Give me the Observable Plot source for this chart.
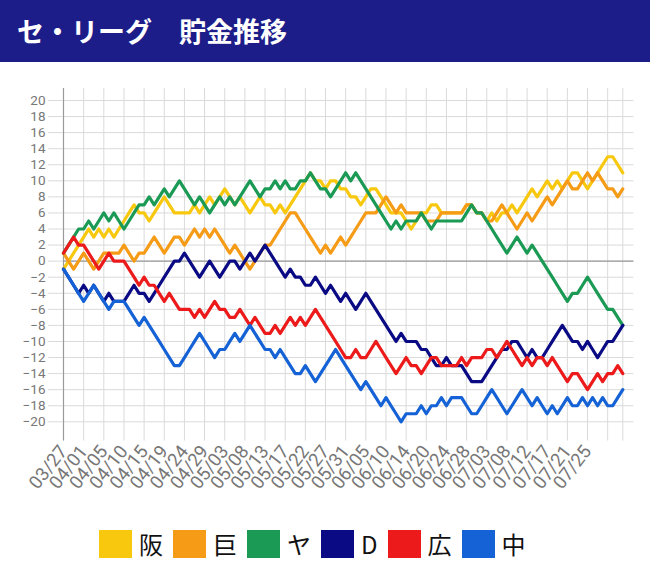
<!DOCTYPE html>
<html><head><meta charset="utf-8">
<script src="https://cdn.jsdelivr.net/npm/d3@7"></script>
<script src="https://cdn.jsdelivr.net/npm/@observablehq/plot@0.6"></script>
<style>
body{margin:0;background:#fff;width:650px;}
#hdr{height:62px;background:#1d1d8a;color:#fff;font:700 27px "Noto Sans CJK JP",sans-serif;line-height:62px;padding-left:17px;box-sizing:border-box;white-space:pre;}
#legend{display:flex;align-items:center;padding-left:99px;margin-top:8px;height:28px;font:24px "Noto Sans CJK JP",sans-serif;color:#111;}
#legend .sq{width:33px;height:28px;margin-right:7px;}
#legend .lb{margin-right:10px;line-height:28px;}
</style></head>
<body>
<div id="hdr">セ・リーグ　貯金推移</div>
<div id="chart"></div>
<div id="legend"></div>
<script>
const teams = ["阪","巨","ヤ","D","広","中"];
const colors = ["#f8c80f","#f59b16","#1a9a55","#0a0a85","#ec1a1a","#1462d6"];
const dateLabels = ["03/27","04/01","04/05","04/10","04/15","04/19","04/24","04/29","05/03","05/08","05/13","05/17","05/22","05/27","05/31","06/05","06/10","06/14","06/20","06/24","06/28","07/03","07/08","07/12","07/17","07/21","07/25"];
const yTicks = [-20,-18,-16,-14,-12,-10,-8,-6,-4,-2,0,2,4,6,8,10,12,14,16,18,20];

const tigers = [-1,0,1,2,3,4,3,4,3,4, 3,4,5,6,7,6,6,5,6,7, 8,7,6,6,6,6,7,6,7,8, 7,8,9,8,7,8,7,6,7,8, 7,7,6,7,6,7,8,9,10,11, 10,10,9,10,10,9,9,8,8,7, 8,9,9,8,7,6,6,6,5,4, 5,6,6,7,7,6,6,6,6,6, 7,7,6,6,5,6,5,6,6,7, 6,7,8,9,8,9,10,9,10,9, 10,11,11,10,9,10,11,12,13,13, 12,11];
const giants = [1,0,-1,0,1,0,-1,0,1,1, 1,1,2,1,0,1,1,2,3,2, 1,2,3,3,2,3,4,3,4,3, 4,3,2,1,2,1,0,-1,0,1, 2,2,3,4,5,6,6,5,4,3, 2,1,2,1,2,3,2,3,4,5, 6,6,6,7,8,7,6,7,6,6, 6,6,5,5,5,6,6,6,6,6, 7,7,6,6,5,5,6,7,6,5, 4,5,6,5,6,7,8,7,8,9, 10,9,9,10,11,10,11,10,9,9, 8,9];
const swallows = [1,2,3,4,4,5,4,5,6,5, 6,5,4,5,6,7,7,8,7,8, 9,8,9,10,9,8,7,8,7,6, 7,8,7,8,7,8,9,10,9,8, 9,9,10,9,10,9,9,10,10,11, 10,9,9,8,9,10,11,10,11,10, 9,8,7,6,5,4,5,4,5,5, 5,6,5,4,5,5,5,5,5,5, 6,7,6,6,5,4,3,2,1,2, 3,2,1,2,1,0,-1,-2,-3,-4, -5,-4,-4,-3,-2,-3,-4,-5,-6,-6, -7,-8];
const baystars = [-1,-2,-3,-4,-3,-4,-3,-4,-5,-4, -5,-5,-5,-4,-3,-4,-4,-5,-4,-3, -2,-1,0,0,1,0,-1,-2,-1,0, -1,-2,-1,0,0,-1,0,1,0,1, 2,1,0,-1,-2,-1,-2,-2,-3,-3, -2,-3,-4,-3,-4,-5,-4,-5,-6,-5, -4,-5,-6,-7,-8,-9,-10,-9,-10,-10, -10,-11,-11,-12,-13,-13,-12,-13,-13,-13, -14,-15,-15,-15,-14,-13,-12,-11,-11,-10, -10,-11,-12,-11,-12,-12,-11,-10,-9,-8, -9,-10,-10,-11,-10,-11,-12,-11,-10,-10, -9,-8];
const carp = [1,2,3,2,2,1,0,-1,0,1, 0,0,0,-1,-2,-3,-2,-3,-3,-4, -5,-4,-5,-6,-6,-6,-7,-6,-7,-6, -5,-6,-6,-7,-7,-6,-7,-8,-7,-8, -9,-9,-8,-9,-8,-7,-8,-7,-8,-7, -6,-7,-8,-9,-10,-11,-12,-12,-11,-12, -12,-11,-10,-11,-12,-13,-14,-13,-12,-13, -13,-14,-13,-12,-12,-13,-13,-13,-13,-12, -13,-12,-12,-12,-11,-11,-12,-11,-10,-11, -12,-13,-12,-13,-12,-12,-13,-12,-13,-14, -15,-14,-14,-15,-16,-15,-14,-15,-14,-14, -13,-14];
const dragons = [-1,-2,-3,-4,-5,-4,-3,-4,-5,-6, -5,-5,-5,-6,-7,-8,-7,-8,-9,-10, -11,-12,-13,-13,-12,-11,-10,-9,-10,-11, -12,-11,-11,-10,-9,-10,-9,-8,-9,-10, -11,-11,-12,-11,-12,-13,-14,-14,-13,-14, -15,-14,-13,-12,-11,-12,-13,-14,-15,-16, -15,-16,-17,-18,-17,-18,-19,-20,-19,-19, -19,-18,-19,-18,-18,-17,-18,-17,-17,-17, -18,-19,-19,-18,-17,-16,-17,-18,-19,-18, -17,-16,-17,-18,-17,-18,-19,-18,-19,-18, -17,-18,-18,-17,-18,-17,-18,-17,-18,-18, -17,-16];

const series = [tigers, giants, swallows, baystars, carp, dragons];
const rows = teams.flatMap((t, k) => series[k].map((v, i) => ({team: t, i, v})));
const last = tigers.length - 1;
const labelIdx = dateLabels.map((d, k) => k * 4);
const gridIdx = [...labelIdx, labelIdx[labelIdx.length - 1] + 4, last];

const chart = Plot.plot({
  width: 650, height: 460,
  marginLeft: 63, marginRight: 27.7, marginTop: 38, marginBottom: 100.7,
  style: {fontFamily: "Roboto, sans-serif", background: "#fff"},
  x: {domain: [0, last], axis: null},
  y: {domain: [-20, 20], axis: null},
  color: {domain: teams, range: colors},
  marks: [
    Plot.ruleX(gridIdx, {y1: 21.5, y2: -22.4, stroke: "#dadada", strokeWidth: 1}),
    Plot.ruleY(yTicks, {x1: 0, x2: last + 2.2, stroke: "#dadada", strokeWidth: 1}),
    Plot.ruleY([0], {x1: 0, x2: last + 2.2, stroke: "#9a9a9a", strokeWidth: 1.2}),
    Plot.ruleX([0], {y1: 21.5, y2: -22.4, stroke: "#9a9a9a", strokeWidth: 1.2}),
    Plot.axisY({ticks: yTicks, label: null, tickSize: 15, tickPadding: 3, fontSize: 13.5, stroke: "#dadada", fill: "#777"}),
    Plot.axisX({ticks: labelIdx, label: null, tickFormat: i => dateLabels[i / 4], tickRotate: -52, tickSize: 0, tickPadding: 26, fontSize: 18.5, fill: "#777"}),
    Plot.line(rows, {x: "i", y: "v", z: "team", stroke: "team", strokeWidth: 3.2, strokeLinejoin: "round", strokeLinecap: "round"})
  ]
});
document.getElementById("chart").appendChild(chart);

const lg = document.getElementById("legend");
teams.forEach((t, k) => {
  const sq = document.createElement("div"); sq.className = "sq"; sq.style.background = colors[k];
  const lb = document.createElement("div"); lb.className = "lb"; lb.textContent = t;
  lg.appendChild(sq); lg.appendChild(lb);
});
</script>
</body></html>
